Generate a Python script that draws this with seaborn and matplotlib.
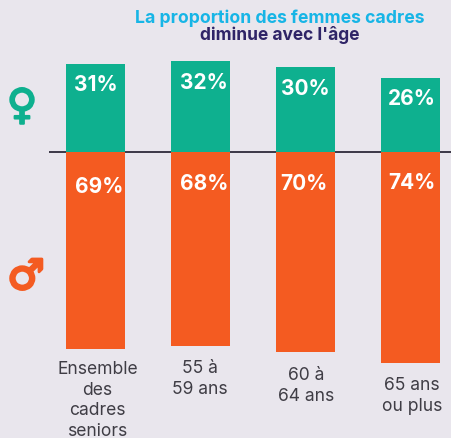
import pandas as pd
import seaborn as sns
import matplotlib.pyplot as plt
import matplotlib.patheffects as pe

categories = ['Ensemble\ndes\ncadres\nseniors', '55 à\n59 ans', '60 à\n64 ans', '65 ans\nou plus']
femmes = [31, 32, 30, 26]
hommes = [69, 68, 70, 74]

BG = '#E9E6ED'
GREEN = '#0EB08F'
ORANGE = '#F45B21'

sns.set_theme(style='white')
plt.rcParams['font.family'] = ['Inter', 'DejaVu Sans']

W, H = 452, 439
fig = plt.figure(figsize=(W / 100, H / 100), dpi=100, facecolor=BG)
ax = fig.add_axes([0, 0, 1, 1], facecolor=BG)

df = pd.DataFrame({'cat': categories * 2,
                   'val': femmes + [-v for v in hommes],
                   'sexe': ['F'] * 4 + ['H'] * 4})
sns.barplot(data=df, x='cat', y='val', hue='sexe', palette={'F': GREEN, 'H': ORANGE},
            dodge=False, width=0.562, legend=False, ax=ax, zorder=3, saturation=1, linewidth=0)

# pixel mapping: bars every 105px, first centred at 95.5, baseline y=153, 2.85px per %
ax.set_xlim(-95.5 / 105, (W - 95.5) / 105)
ax.set_ylim(-(H - 153) / 2.85, 153 / 2.85)
ax.axis('off')
ax.hlines(0, (49 - 95.5) / 105, (W - 95.5) / 105, color='#2E2A3A', lw=1.3, zorder=2)


def txt(x, y, s, **kw):
    fig.text(x / W, 1 - y / H, s, ha='center', va='center', **kw)


txt(279.5, 18.5, 'La proportion des femmes cadres', color='#17B5E6', fontsize=12.7, fontweight='bold')
txt(279.5, 35.5, "diminue avec l'âge", color='#2F2467', fontsize=12.5, fontweight='bold')

for v, x, y in zip(femmes, [96, 204, 305, 412], [85, 83, 89, 99]):
    txt(x, y, f'{v}%', color='white', fontsize=15, fontweight='bold')
for v, x, y in zip(hommes, [99, 204, 304, 412], [187, 184, 184, 183]):
    txt(x, y, f'{v}%', color='white', fontsize=15, fontweight='bold')

for lab, x, y in zip(categories, [97.5, 200, 306, 412], [372, 371, 378, 388]):
    fig.text(x / W, 1 - (y - 11) / H, lab, ha='center', va='top', color='#3F3D45',
             fontsize=12.6, linespacing=1.27)

txt(22, 107.5, '♀', color=GREEN, fontsize=30, family='DejaVu Sans',
    path_effects=[pe.withStroke(linewidth=1.5, foreground=GREEN)])
txt(26, 278, '♂', color=ORANGE, fontsize=30, family='DejaVu Sans',
    path_effects=[pe.withStroke(linewidth=2, foreground=ORANGE)])

fig.savefig('out.png', dpi=100, facecolor=BG)
